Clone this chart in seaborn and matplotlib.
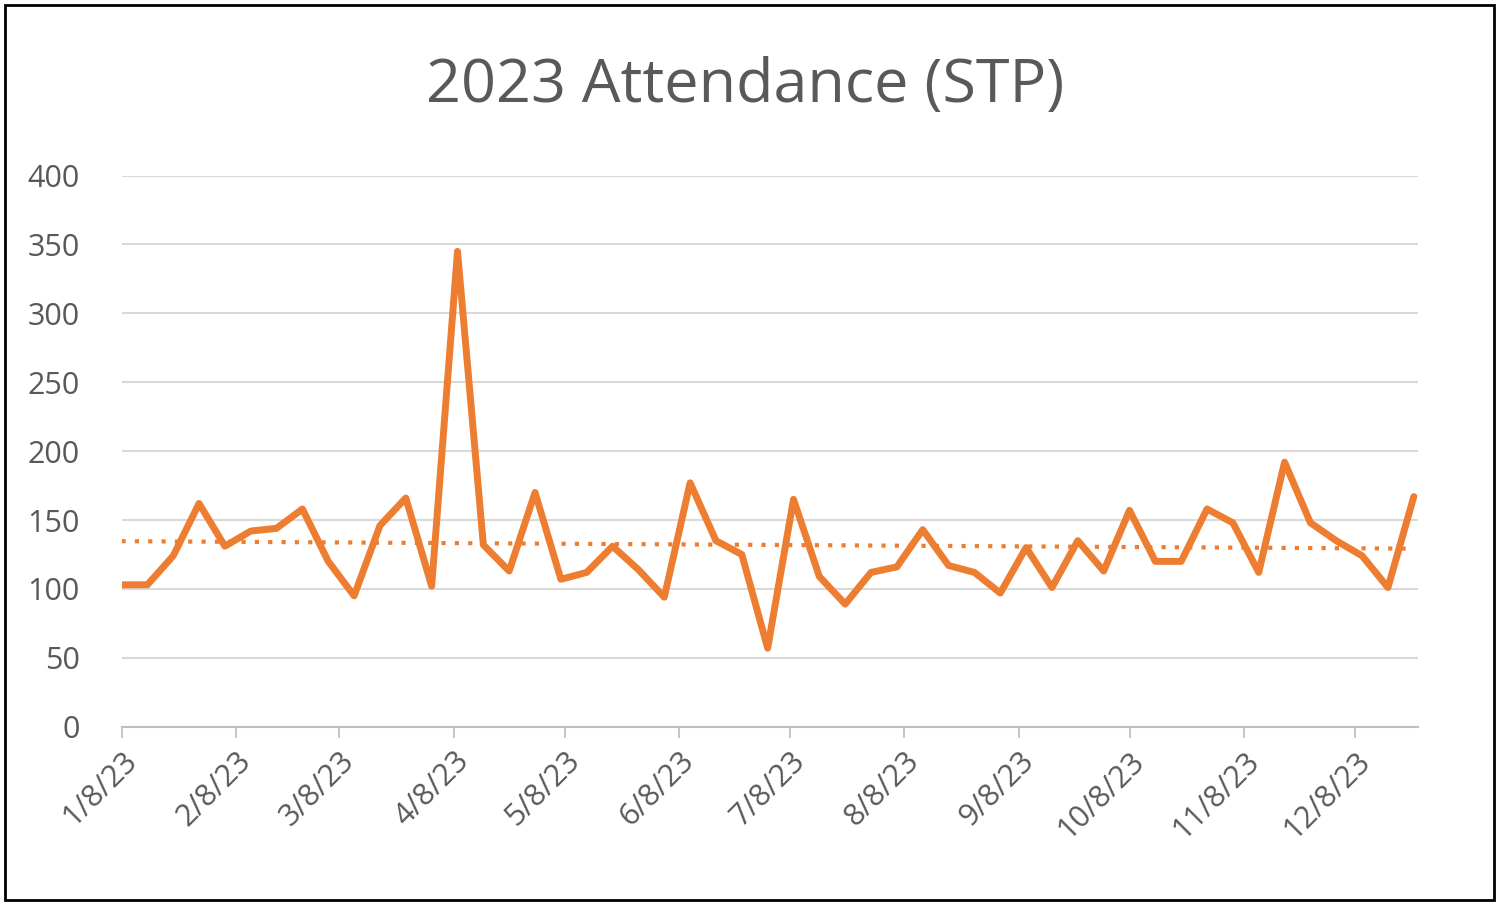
import numpy as np
import pandas as pd
import matplotlib.pyplot as plt
import matplotlib.dates as mdates
import seaborn as sns

sns.set_theme(style="white")
plt.rcParams['font.family'] = ['Open Sans', 'DejaVu Sans']

start_date = "2023-01-08"
attendance = [103, 103, 124, 162, 131, 142, 144, 158, 120, 95,
              146, 166, 102, 345, 132, 113, 170, 107, 112, 131,
              114, 94, 177, 135, 125, 57, 165, 109, 89, 112,
              116, 143, 117, 112, 97, 130, 101, 135, 113, 157,
              120, 120, 158, 148, 112, 192, 148, 135, 124, 101, 167]
tick_dates = pd.date_range("2023-01-01", periods=12, freq="MS") + pd.Timedelta(days=7)

df = pd.DataFrame({
    "date": pd.date_range(start_date, periods=len(attendance), freq="7D"),
    "attendance": attendance,
})

orange = "#ED7D31"
fig = plt.figure(figsize=(15, 9.05), dpi=100)
ax = fig.add_axes([0.081, 0.197, 0.864, 0.609])

sns.lineplot(data=df, x="date", y="attendance", color=orange, linewidth=5, ax=ax)

# linear trendline
xn = mdates.date2num(df["date"])
coef = np.polyfit(xn, df["attendance"], 1)
ax.plot(df["date"], np.polyval(coef, xn), color=orange, linewidth=3, linestyle=(0, (1, 2.2)))

ax.set_ylim(0, 400)
ax.set_yticks(range(0, 401, 50))
ax.set_xlim(df["date"].iloc[0], df["date"].iloc[-1] + pd.Timedelta(days=1))
ax.set_xticks(tick_dates)
ax.set_xticklabels([f"{d.month}/{d.day}/23" for d in tick_dates], rotation=45,
                   ha="right", rotation_mode="anchor", fontsize=22, color="#595959")
ax.tick_params(axis="y", labelsize=22, labelcolor="#595959", length=0, pad=30)
ax.tick_params(axis="x", length=8, color="#BFBFBF", bottom=True, direction="out", pad=6)
ax.yaxis.grid(True, color="#D9D9D9", linewidth=1.5)
for s in ["top", "right", "left"]:
    ax.spines[s].set_visible(False)
ax.spines["bottom"].set_color("#BFBFBF")
ax.spines["bottom"].set_linewidth(1.5)
ax.set_xlabel("")
ax.set_ylabel("")

fig.text(0.497, 0.905, "2023 Attendance (STP)", ha="center", va="center",
         fontsize=44, color="#595959")
fig.patches.append(plt.Rectangle((0.003, 0.005), 0.993, 0.99, transform=fig.transFigure,
                                 fill=False, edgecolor="black", linewidth=2))

fig.savefig("out.png")
